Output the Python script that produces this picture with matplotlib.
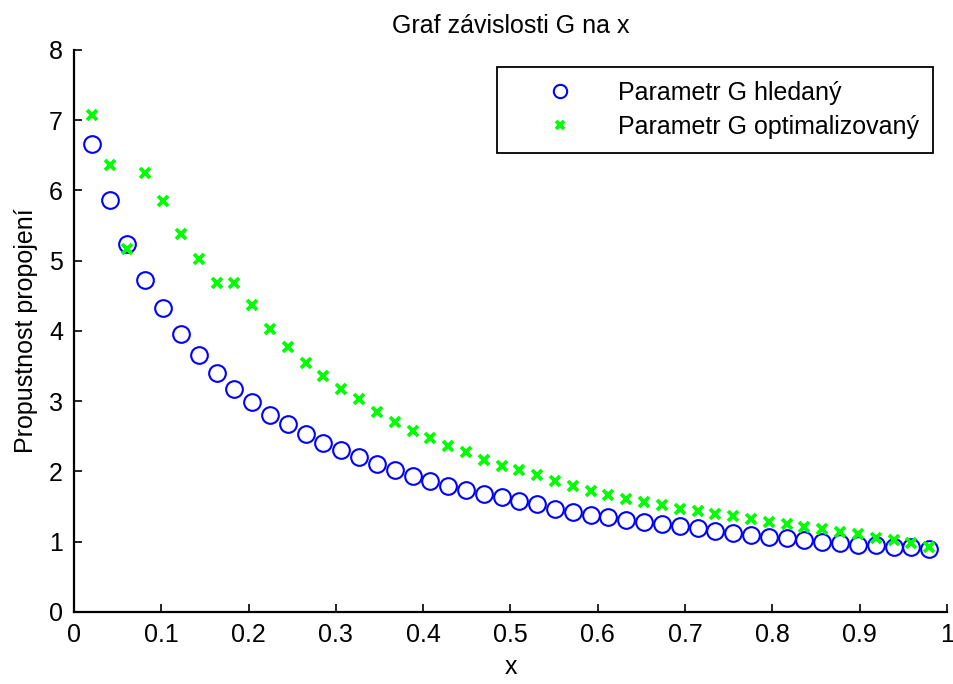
from matplotlib import pyplot as plt

# x positions of the samples (48 evenly spaced points between 0 and 1)
x = [0.0204, 0.0408, 0.0612, 0.0816, 0.1020, 0.1224, 0.1429, 0.1633,
     0.1837, 0.2041, 0.2245, 0.2449, 0.2653, 0.2857, 0.3061, 0.3265,
     0.3469, 0.3673, 0.3878, 0.4082, 0.4286, 0.4490, 0.4694, 0.4898,
     0.5102, 0.5306, 0.5510, 0.5714, 0.5918, 0.6122, 0.6327, 0.6531,
     0.6735, 0.6939, 0.7143, 0.7347, 0.7551, 0.7755, 0.7959, 0.8163,
     0.8367, 0.8571, 0.8776, 0.8980, 0.9184, 0.9388, 0.9592, 0.9796]

# Parametr G hledany
g_hledany = [6.66, 5.86, 5.24, 4.73, 4.33, 3.96, 3.66, 3.40,
             3.18, 2.99, 2.81, 2.67, 2.53, 2.41, 2.30, 2.20,
             2.11, 2.02, 1.93, 1.87, 1.80, 1.74, 1.68, 1.63,
             1.58, 1.53, 1.47, 1.42, 1.38, 1.35, 1.31, 1.28,
             1.25, 1.22, 1.19, 1.15, 1.13, 1.10, 1.07, 1.05,
             1.02, 1.00, 0.98, 0.96, 0.95, 0.93, 0.92, 0.90]

# Parametr G optimalizovany
g_optim = [7.07, 6.36, 5.17, 6.25, 5.85, 5.38, 5.02, 4.68,
           4.68, 4.37, 4.03, 3.77, 3.54, 3.36, 3.17, 3.03,
           2.85, 2.71, 2.58, 2.47, 2.36, 2.27, 2.17, 2.08,
           2.02, 1.95, 1.86, 1.80, 1.72, 1.67, 1.61, 1.57,
           1.52, 1.47, 1.44, 1.39, 1.36, 1.32, 1.28, 1.25,
           1.21, 1.18, 1.14, 1.11, 1.06, 1.02, 0.98, 0.92]

xticks = [0, 0.1, 0.2, 0.3, 0.4, 0.5, 0.6, 0.7, 0.8, 0.9, 1]
xtick_labels = ['0', '0.1', '0.2', '0.3', '0.4', '0.5', '0.6', '0.7', '0.8', '0.9', '1']
yticks = [0, 1, 2, 3, 4, 5, 6, 7, 8]

plt.rcParams['font.family'] = ['Liberation Sans', 'DejaVu Sans']
plt.rcParams['font.size'] = 18

fig = plt.figure(figsize=(9.54, 6.84), dpi=100)
ax = fig.add_axes([0.0776, 0.1053, 0.915, 0.8217])

ax.plot(x, g_hledany, linestyle='none', marker='o', markersize=12,
        markerfacecolor='none', markeredgecolor='#0000ff', markeredgewidth=1.5,
        label='Parametr G hledaný')
ax.plot(x, g_optim, linestyle='none', marker='x', markersize=7.5,
        markeredgecolor='#00ff00', markeredgewidth=2.7,
        label='Parametr G optimalizovaný')

ax.set_xlim(0, 1)
ax.set_ylim(0, 8)
ax.set_xticks(xticks)
ax.set_xticklabels(xtick_labels)
ax.set_yticks(yticks)
ax.tick_params(direction='in', length=6, width=1.2, pad=8, labelsize=18)
ax.spines['top'].set_visible(False)
ax.spines['right'].set_visible(False)
ax.spines['left'].set_linewidth(1.6)
ax.spines['bottom'].set_linewidth(1.6)

ax.set_title('Graf závislosti G na x', fontsize=18, pad=12)
ax.set_xlabel('x', fontsize=18, labelpad=6)
ax.set_ylabel('Propustnost propojení', fontsize=18, labelpad=8)

leg = ax.legend(loc='upper right', bbox_to_anchor=(0.978, 0.902),
                bbox_transform=fig.transFigure, borderaxespad=0,
                fancybox=False, edgecolor='black', framealpha=1,
                borderpad=0.55, handlelength=3.95, handletextpad=0.35,
                labelspacing=0.4, markerscale=0.8)
leg.get_frame().set_linewidth(1.3)

plt.savefig('out.png', dpi=100)
plt.close()
